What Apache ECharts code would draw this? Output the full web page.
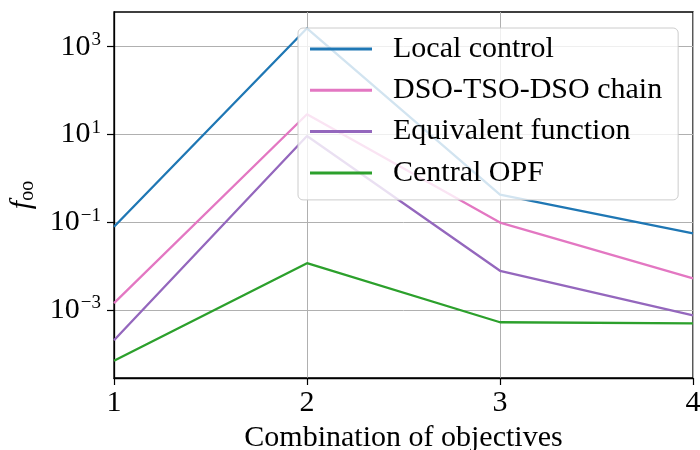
<!DOCTYPE html>
<html>
<head>
<meta charset="utf-8">
<script src="https://cdn.jsdelivr.net/npm/echarts@6/dist/echarts.min.js"></script>
<style>
  html, body { margin: 0; padding: 0; background: #fff; }
  #chart { width: 700px; height: 450px; }
</style>
</head>
<body>
<div id="chart"></div>
<script>
// Objective combinations on the x axis
const combinations = [1, 2, 3, 4];

// f_oo for each control scheme
const localControl  = [0.08, 2620, 0.43, 0.057];
const dsoTsoChain   = [0.00147, 29, 0.1, 0.0054];
const equivalentFn  = [0.00021, 9.3, 0.008, 0.00077];
const centralOpf    = [0.000072, 0.0119, 0.00054, 0.00051];

const seriesNames = ['Local control', 'DSO-TSO-DSO chain', 'Equivalent function', 'Central OPF'];
const seriesValues = [localControl, dsoTsoChain, equivalentFn, centralOpf];
const seriesColors = ['#1f77b4', '#e377c2', '#9467bd', '#2ca02c'];

// Labelled decades on the log axis
const yTickValues = [1e-3, 1e-1, 1e1, 1e3];
const xTickValues = [1, 2, 3, 4];

const SERIF = '"Liberation Serif", "Times New Roman", serif';

function powerLabel(v) {
  const e = Math.round(Math.log10(v));
  const sup = e < 0 ? '\u2212' + (-e) : String(e);
  return '{b|10}{s|' + sup + '}';
}

const chart = echarts.init(document.getElementById('chart'), null, { renderer: 'canvas' });

chart.setOption({
  animation: false,
  backgroundColor: '#fff',
  grid: {
    left: 114, right: 7, top: 12, bottom: 72,
    show: true, borderColor: '#000', borderWidth: 1.3,
    containLabel: false,
    outerBoundsMode: 'none'
  },
  xAxis: {
    type: 'value',
    min: 1, max: 4, interval: 1,
    name: 'Combination of objectives',
    nameLocation: 'middle',
    nameGap: 42,
    nameTextStyle: { fontFamily: SERIF, fontSize: 30, color: '#000' },
    axisLine: { show: true, lineStyle: { color: '#000', width: 1.3 } },
    axisTick: { show: true, inside: false, length: 7, lineStyle: { color: '#000', width: 1.2 }, customValues: xTickValues },
    axisLabel: { fontFamily: SERIF, fontSize: 30, color: '#000', margin: 10, customValues: xTickValues },
    splitLine: { show: true, lineStyle: { color: '#b0b0b0', width: 1 } }
  },
  yAxis: {
    type: 'log',
    logBase: 10,
    min: Math.pow(10, -4.536),
    max: Math.pow(10, 3.789),
    name: '{i|f}{sub|oo}',
    nameLocation: 'middle',
    nameRotate: 90,
    nameGap: 76,
    nameTextStyle: {
      color: '#000',
      rich: {
        i: { fontFamily: SERIF, fontStyle: 'italic', fontSize: 30, color: '#000' },
        sub: { fontFamily: SERIF, fontSize: 20, color: '#000', verticalAlign: 'top', padding: [12, 0, 0, 0] }
      }
    },
    axisLine: { show: true, lineStyle: { color: '#000', width: 1.3 } },
    axisTick: { show: true, inside: false, length: 7, lineStyle: { color: '#000', width: 1.2 }, customValues: yTickValues },
    axisLabel: {
      customValues: yTickValues,
      margin: 13,
      formatter: powerLabel,
      rich: {
        b: { fontFamily: SERIF, fontSize: 30, color: '#000', lineHeight: 30 },
        s: { fontFamily: SERIF, fontSize: 19, color: '#000', verticalAlign: 'bottom', padding: [0, 0, 14, 1] }
      }
    },
    splitLine: { show: true, lineStyle: { color: '#b0b0b0', width: 1 } },
    minorTick: { show: false },
    minorSplitLine: { show: false }
  },
  legend: {
    show: true,
    orient: 'vertical',
    left: 298, top: 28,
    padding: [6, 16, 12, 12],
    itemGap: 11.3,
    itemWidth: 62, itemHeight: 3,
    icon: 'rect',
    backgroundColor: 'rgba(255,255,255,0.8)',
    borderColor: '#cccccc',
    borderWidth: 1,
    borderRadius: 5,
    textStyle: { fontFamily: SERIF, fontSize: 30, color: '#000', lineHeight: 30, padding: [0, 0, 0, 16] },
    data: seriesNames
  },
  series: seriesNames.map((name, i) => ({
    name: name,
    type: 'line',
    symbol: 'none',
    color: seriesColors[i],
    lineStyle: { width: 2.3, color: seriesColors[i] },
    data: combinations.map((x, j) => [x, seriesValues[i][j]])
  }))
});
</script>
</body>
</html>
